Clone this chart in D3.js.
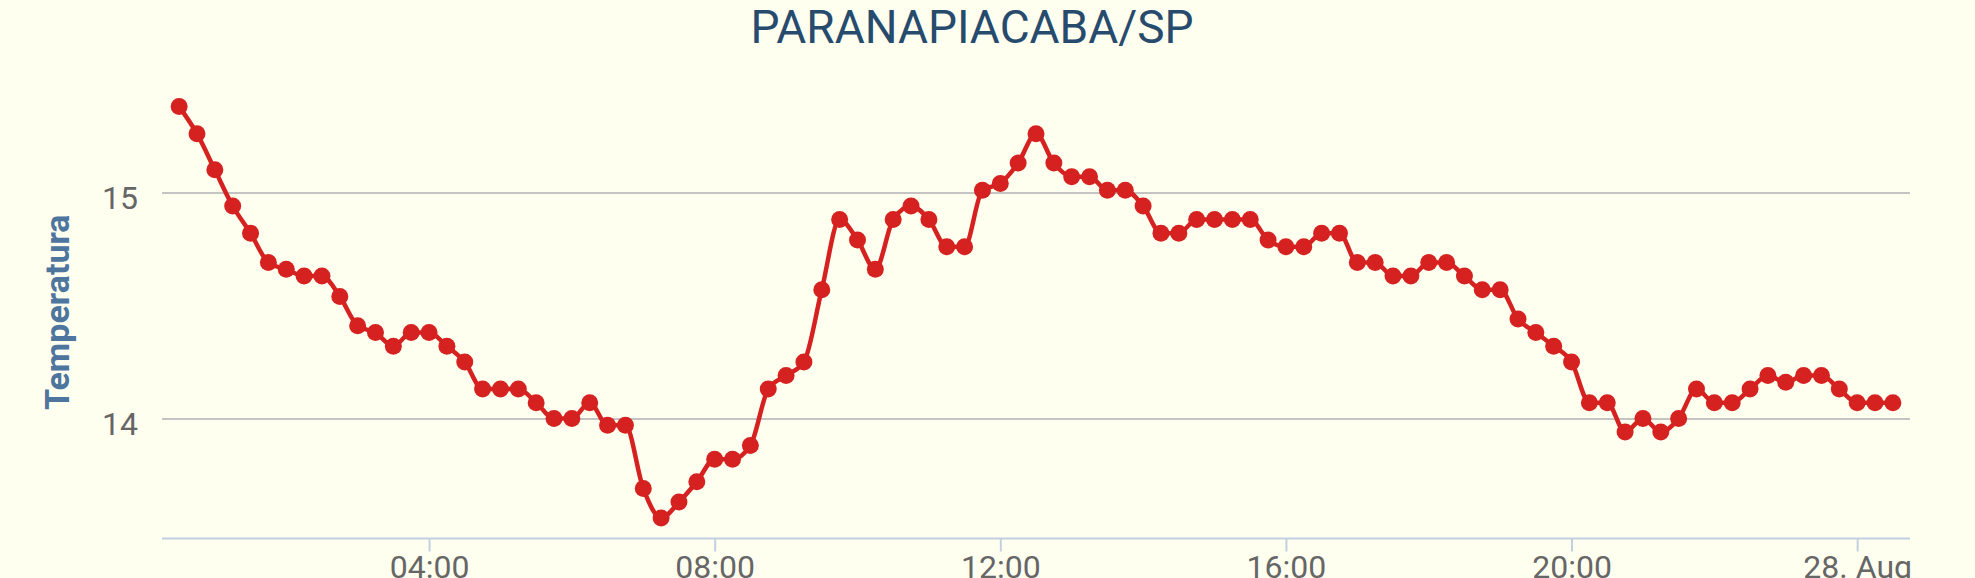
<!DOCTYPE html>
<html>
<head>
<meta charset="utf-8">
<script src="https://cdn.jsdelivr.net/npm/d3@7"></script>
<style>
  html, body { margin: 0; padding: 0; background: #FFFFF0; }
  svg { display: block; font-family: Roboto, "Noto Sans", sans-serif; }
</style>
</head>
<body>
<svg id="chart" width="1975" height="578"></svg>
<script>
// ---- data ----
const chartTitle = "PARANAPIACABA/SP";
const yAxisTitle = "Temperatura";
const startTime = "2014-08-27T00:30:00Z";   // first reading
const stepMinutes = 15;                      // reading interval
const temperatura = [
  15.38, 15.26, 15.10, 14.94, 14.82, 14.69, 14.66, 14.63, 14.63, 14.54,
  14.41, 14.38, 14.32, 14.38, 14.38, 14.32, 14.25, 14.13, 14.13, 14.13,
  14.07, 14.00, 14.00, 14.07, 13.97, 13.97, 13.69, 13.56, 13.63, 13.72,
  13.82, 13.82, 13.88, 14.13, 14.19, 14.25, 14.57, 14.88, 14.79, 14.66,
  14.88, 14.94, 14.88, 14.76, 14.76, 15.01, 15.04, 15.13, 15.26, 15.13,
  15.07, 15.07, 15.01, 15.01, 14.94, 14.82, 14.82, 14.88, 14.88, 14.88,
  14.88, 14.79, 14.76, 14.76, 14.82, 14.82, 14.69, 14.69, 14.63, 14.63,
  14.69, 14.69, 14.63, 14.57, 14.57, 14.44, 14.38, 14.32, 14.25, 14.07,
  14.07, 13.94, 14.00, 13.94, 14.00, 14.13, 14.07, 14.07, 14.13, 14.19,
  14.16, 14.19, 14.19, 14.13, 14.07, 14.07, 14.07
];
const yTickValues = [14, 15];
const xTickLabels = ["04:00", "08:00", "12:00", "16:00", "20:00", "28. Aug"];
const xTickTimes = ["2014-08-27T04:00:00Z", "2014-08-27T08:00:00Z", "2014-08-27T12:00:00Z",
                    "2014-08-27T16:00:00Z", "2014-08-27T20:00:00Z", "2014-08-28T00:00:00Z"];

// ---- build ----
const t0 = new Date(startTime).getTime();
const data = temperatura.map((v, i) => ({ t: new Date(t0 + i * stepMinutes * 60000), v }));

const plot = { left: 162, right: 1910, top: 86, bottom: 538.5 };
const svg = d3.select("#chart");
svg.append("rect").attr("width", 1975).attr("height", 578).attr("fill", "#FFFFF0");

const tExt = d3.extent(data, d => d.t.getTime());
const tPad = (tExt[1] - tExt[0]) * 0.01;
const x = d3.scaleUtc()
  .domain([new Date(tExt[0] - tPad), new Date(tExt[1] + tPad)])
  .range([plot.left, plot.right]);

const vExt = d3.extent(temperatura);
const vPad = (vExt[1] - vExt[0]) * 0.05;
const y = d3.scaleLinear()
  .domain([vExt[0] - vPad, vExt[1] + vPad])
  .range([plot.bottom, plot.top]);

// title
svg.append("text")
  .attr("x", 972).attr("y", 43)
  .attr("text-anchor", "middle")
  .attr("fill", "#274b6d")
  .style("font-size", "46px")
  .text(chartTitle);

// y gridlines + labels
const yAxis = d3.axisLeft(y).tickValues(yTickValues).tickSize(0).tickFormat(d3.format("d"));
const gy = svg.append("g").attr("transform", `translate(${plot.left},0)`).call(yAxis);
gy.select(".domain").remove();
gy.selectAll(".tick text")
  .attr("x", -24).attr("dy", null).attr("y", 16.5)
  .attr("fill", "#666666")
  .style("font-size", "32px").style("font-family", "Roboto, sans-serif");
gy.selectAll(".tick").append("line")
  .attr("x1", 0).attr("x2", plot.right - plot.left)
  .attr("stroke", "#C4C4C4").attr("stroke-width", 2);

// x axis
const xAxis = d3.axisBottom(x)
  .tickValues(xTickTimes.map(s => new Date(s)))
  .tickSize(13)
  .tickFormat((d, i) => xTickLabels[i]);
const gx = svg.append("g").attr("transform", `translate(0,${plot.bottom})`).call(xAxis);
gx.select(".domain").attr("stroke", "#C0D0E0").attr("stroke-width", 2)
  .attr("d", `M${plot.left},0H${plot.right}`);
gx.selectAll(".tick line").attr("stroke", "#C0D0E0").attr("stroke-width", 2);
gx.selectAll(".tick text")
  .attr("y", 39.5).attr("dy", null)
  .attr("fill", "#666666")
  .style("font-size", "32px").style("font-family", "Roboto, sans-serif");

// y axis title
svg.append("text")
  .attr("transform", `translate(69,${(plot.top + plot.bottom) / 2}) rotate(-90)`)
  .attr("text-anchor", "middle")
  .attr("fill", "#4d759e")
  .style("font-size", "34px").style("font-weight", "bold")
  .text(yAxisTitle);

// line
const line = d3.line().x(d => x(d.t)).y(d => y(d.v)).curve(d3.curveMonotoneX);
svg.append("path").datum(data)
  .attr("d", line)
  .attr("fill", "none")
  .attr("stroke", "#D62121")
  .attr("stroke-width", 4.5)
  .attr("stroke-linejoin", "round");

// markers
svg.append("g").selectAll("circle").data(data).join("circle")
  .attr("cx", d => x(d.t)).attr("cy", d => y(d.v))
  .attr("r", 8.5)
  .attr("fill", "#D62121");
</script>
</body>
</html>
